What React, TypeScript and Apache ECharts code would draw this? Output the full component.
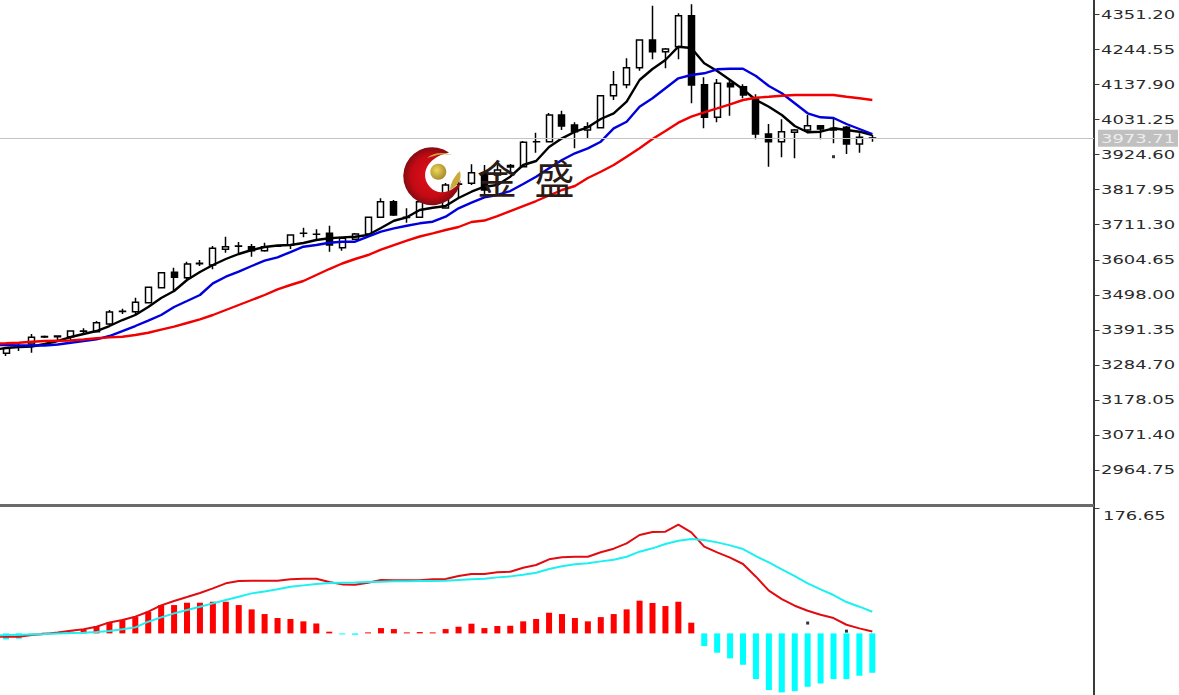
import React, { useEffect, useRef } from "react";
import * as echarts from "echarts";

const priceTicks = [4351.2, 4244.55, 4137.9, 4031.25, 3924.6, 3817.95, 3711.3, 3604.65, 3498.0, 3391.35, 3284.7, 3178.05, 3071.4, 2964.75];
const macdTicks = [176.65];
const lastPrice = 3973.71;

const opens = [3319.4,3339.4,3347.6,3370.5,3372,3369.9,3386.5,3385.1,3408.5,3447.1,3445.9,3473.3,3518.9,3565.7,3549.3,3592.1,3587.9,3635.7,3645,3643.6,3631.4,3645,3648.7,3684.3,3681.3,3684.3,3640.5,3666.1,3682.2,3733,3780.4,3732.5,3733,3783,3761.3,3833.3,3836.4,3867.7,3861.6,3885.9,3886.8,3962.4,3962.9,4044.1,4013.7,3998.5,4005.4,4102.8,4136.2,4187.9,4272.2,4236.6,4251.8,4346.1,4136.2,4037.1,4140.5,4130.1,4092.7,3986.3,3962.9,3991.5,3998.5,4011.5,4003.6,4006.7,3955.9,3974.1];
const closes = [3334.6,3338.5,3368,3368.9,3369.9,3387.2,3387.2,3412.4,3445,3446.3,3474.5,3520.1,3564.5,3550.5,3590.9,3593.1,3638.7,3643.6,3645.7,3631.4,3643.6,3645.7,3679.1,3684.8,3681.8,3648.7,3669.1,3682.2,3733,3780.4,3740,3733,3780.4,3790,3831.2,3834.3,3868.6,3816,3876.8,3890.5,3961,3963,4044.1,4010.6,3993.3,4008.5,4102.8,4136.2,4187.9,4272.2,4236.6,4244.8,4346.1,4135.3,4037.1,4140.5,4130.1,4104.9,3986.3,3962.9,3993.3,3998.5,4011.5,4001.5,3998.5,3955.9,3976.3,3973.71];
const lows = [3311.2,3326.4,3321.2,3365.9,3353.7,3359.8,3378.1,3384.2,3405.4,3438.9,3435.9,3472.4,3516.4,3506.7,3545.3,3584.9,3574.8,3625.3,3621.4,3613.2,3628.4,3642.6,3636.6,3672.1,3661.8,3628.4,3631.4,3663.9,3679.1,3730.8,3736.9,3716.5,3730.8,3775,3761,3791.7,3831.2,3800.8,3846.4,3870.7,3886,3929.4,3962,3998.5,3942.8,3973.2,4004.5,4089.7,4125.3,4178.8,4213.5,4186.1,4213.5,4079.7,4003.6,4021.9,4041.9,4094.9,3970.2,3886.8,3915.4,3912.4,3988.4,3970.2,3958,3925.5,3929.4,3962.9];
const highs = [3335.5,3350.7,3378.1,3373.5,3373.5,3388.7,3395.4,3417.6,3451.1,3455,3488.5,3521,3566.6,3579.7,3597.9,3603.1,3645.7,3674,3657.9,3651.8,3655.7,3648.7,3680.7,3701.3,3696.5,3707.4,3673.1,3685.2,3733.9,3790.8,3785.6,3760.3,3800.8,3805,3837.3,3867.7,3894.2,3892,3892,3895,3965,3990.2,4050.2,4057.1,4021.9,4021.9,4104.9,4177.9,4216.5,4273,4376.5,4247.8,4353.4,4380.8,4158.7,4153.6,4150.5,4137.4,4107,4016.7,4031,4001.5,4044.1,4013.7,4034,4010.6,3988.4,3983.3];

// The three averages and the two MACD lines run in from a bar just off the left edge, so they start with one extra value.
const maBlack = [3330,3335.5,3338.5,3340.1,3347.7,3356.8,3368.9,3378.1,3387.2,3402.4,3420.6,3435.9,3460.2,3487.6,3508.8,3542.3,3566.6,3587.9,3606.2,3621.4,3633.5,3642.6,3647.2,3648.7,3654.8,3663.9,3669.1,3672.1,3674,3679.1,3700.4,3722.6,3733,3755.2,3762.2,3767.3,3791.7,3810.8,3826,3831.2,3856.4,3892,3904.2,3946.8,3973.2,3993.3,4006.7,4031.9,4049.2,4084.5,4150.5,4184,4211.3,4251.8,4247.8,4201.3,4177.9,4150.5,4122.2,4089.7,4069.3,4044.1,4010.6,3991.5,3993.3,4003.6,3998.5,3993.3,3983.3];
const maBlue = [3345,3344.6,3343.1,3343.1,3343.1,3346.1,3351.6,3356.8,3362,3372,3387.2,3402.4,3418.5,3435.9,3460.2,3478.4,3496.7,3532.2,3552.3,3567.5,3584.9,3601,3611.3,3627.4,3643.6,3648.7,3655.7,3658.8,3658.8,3674,3689.2,3699.5,3707.4,3714.7,3719.6,3734.8,3760.3,3777.4,3793.8,3800.8,3812.9,3834.2,3856.4,3882,3907.2,3927.6,3942.8,3962.9,4003.6,4023.7,4069.3,4094.9,4125.3,4155.7,4165.7,4170.9,4183.1,4184.9,4184.9,4162.7,4132.3,4110.1,4079.7,4049.2,4037.1,4035,4016.7,4001.5,3986.3];
const maRed = [3348.5,3349.8,3351.3,3354.7,3356.8,3357.7,3358.3,3361.3,3365,3368,3369.9,3375,3382,3391.2,3400.3,3411.5,3422.8,3435.9,3451.1,3466.3,3481.5,3496.7,3514,3527.1,3539.3,3557.5,3575.7,3592.5,3606.2,3618.3,3634.4,3648.7,3661.8,3674.6,3684.3,3694.3,3703.5,3718.7,3723.2,3736.9,3752.1,3767.3,3782.5,3799.3,3816,3828.2,3852.5,3871.6,3892,3917.3,3942.8,3971.1,3995.4,4020.7,4038.9,4052.3,4064.4,4076.6,4089.7,4096.7,4099.7,4102.8,4104.9,4104.9,4104.9,4104.9,4099.7,4094.9,4089.7];

const macdBars = [-8.5,-7.5,-1,1,1.4,2.4,5.7,10.4,16,18.8,23.6,30.6,40,40,43.3,43.3,44.7,44.7,40,33.9,27.3,21.7,20.3,17,14,2.4,-1.5,-2,1.4,7.5,6.1,1.4,1.9,1.4,6.1,9.4,13.7,7.5,10.4,10.8,17,20.3,29.2,27.3,21.7,17,23,27.3,33.9,46.2,42.9,38.6,44.7,15.1,-17.9,-27.3,-35.3,-44.3,-64.5,-80,-83.4,-81.5,-75.4,-70.7,-64.5,-64.5,-59.8,-55.6];
const macdRed = [-4.7,-4.7,-4.7,-2.4,-0.9,1.4,3.8,5.7,9.4,15.5,18.8,23.6,30.6,39.6,45.7,51.3,57,63.6,70.7,74,74.4,74.4,74.4,76.3,77.2,77.2,72.5,69.2,68.7,71.6,75.4,74.9,74.9,74.9,76.3,76.8,81,83.8,83.8,86.2,87.1,92.8,96.6,104.6,107.4,108.3,108.3,114.5,119.6,127.2,138.9,143.2,143.7,153.5,142.7,122.5,114.5,106.9,98,80.1,60.3,48.5,39.1,32,26.4,21.7,12.2,7.1,2.8];
const macdCyan = [-2.6,-2.4,-1.9,-1.4,-0.9,0,0.5,0.9,1.9,3.3,5.7,8.5,16.5,22.6,28.3,33,37.7,42.4,47.1,51.8,56.5,59.3,62.2,65.9,67.8,69.7,71.1,71.6,72,72.5,73,73.5,73.5,73.9,73.9,74.4,75.4,76.3,77.2,79.1,80.5,82.9,85.7,90.9,94.7,97.6,99,101.7,104.1,108.3,115.4,120.1,126.2,130.9,133.3,131.9,128.5,124.3,119.1,109.2,100.2,90.3,80.9,70.7,62.2,54.2,44.3,37.7,30.6];

// Stray single-pixel specks in the picture: [bar number, value].
const priceSpecks = [[65, 3917.3]];
const macdSpecks = [[63, 14.6], [66, 3.2]];

const crescentPath = "M449 152.5A29 29 0 1 0 461 180C456 190 440 198 430 187C420 176 425 158 449 152.5Z";
const swooshTopPath = "M427 158Q437 150 452 155Q440 153 434 156Q430 157 427 158Z";
const swooshLowPath = "M450 190Q451 179 460 171Q463 183 450 190Z";
echarts.graphic.registerShape("logoCrescent", echarts.graphic.extendPath(crescentPath, {}));
echarts.graphic.registerShape("logoSwooshTop", echarts.graphic.extendPath(swooshTopPath, {}));
echarts.graphic.registerShape("logoSwooshLow", echarts.graphic.extendPath(swooshLowPath, {}));

const FONT = "DejaVu Sans";
const LABEL_SIZE = 13;
const LABEL_STRETCH = 1.38;
const BAND_COUNT = 85;
const AXIS_X = 1093.5;
const TICK_LENGTH = 6;
const categories = Array.from({ length: BAND_COUNT }, (_, i) => String(i));

function priceAxis(gridIndex: number, min: number, max: number) {
  return {
    type: "value",
    gridIndex,
    position: "right",
    offset: 8.345,
    min,
    max,
    scale: true,
    splitLine: { show: false },
    axisLine: { show: true, onZero: false, lineStyle: { color: "#3a3a3a", width: 2 } },
    axisTick: { show: false },
    axisLabel: { show: false },
  };
}

function lineSeries(name: string, data: number[], color: string, axis: number, width: number, extra: object = {}) {
  return {
    name,
    type: "line",
    data,
    xAxisIndex: axis,
    yAxisIndex: axis,
    symbol: "none",
    smooth: false,
    silent: true,
    z: 3,
    lineStyle: { color, width },
    ...extra,
  };
}

function speckSeries(data: number[][], axis: number) {
  return {
    type: "scatter",
    data,
    xAxisIndex: axis,
    yAxisIndex: axis,
    symbol: "rect",
    symbolSize: [3, 3],
    silent: true,
    z: 4,
    itemStyle: { color: "#000000" },
  };
}

export default function App() {
  const ref = useRef<HTMLDivElement>(null);

  useEffect(() => {
    const chart = echarts.init(ref.current!, null, { renderer: "svg" });
    chart.setOption({
      animation: false,
      backgroundColor: "#ffffff",
      grid: [
        { left: -13.395, top: 0, width: 1099.05, height: 505, outerBoundsMode: "none" },
        { left: -13.395, top: 505, width: 1099.05, height: 190, outerBoundsMode: "none" },
      ],
      xAxis: [0, 1].map((gridIndex) => ({
        type: "category",
        gridIndex,
        data: categories,
        show: false,
      })),
      yAxis: [priceAxis(0, 2858.1, 4393.8), priceAxis(1, -87, 181.3)],
      series: [
        {
          name: "K",
          type: "candlestick",
          xAxisIndex: 0,
          yAxisIndex: 0,
          barWidth: 6.5,
          silent: true,
          data: [["-", "-", "-", "-"], ...opens.map((o, i) => [o, closes[i], lows[i], highs[i]])],
          itemStyle: {
            color: "#ffffff",
            color0: "#000000",
            borderColor: "#000000",
            borderColor0: "#000000",
            borderColorDoji: "#000000",
            borderWidth: 1.5,
          },
        },
        lineSeries("MA black", maBlack, "#000000", 0, 2.4, {
          markLine: {
            silent: true,
            symbol: "none",
            lineStyle: { color: "#c4c4c4", width: 1, type: "solid" },
            label: { show: false },
            data: [[{ x: 0, yAxis: lastPrice }, { x: 1094, yAxis: lastPrice }]],
          },
        }),
        lineSeries("MA blue", maBlue, "#0000dc", 0, 2.4),
        lineSeries("MA red", maRed, "#f00000", 0, 2.4),
        speckSeries(priceSpecks, 0),
        {
          name: "MACD",
          type: "bar",
          xAxisIndex: 1,
          yAxisIndex: 1,
          barWidth: 6,
          silent: true,
          data: ["-", ...macdBars].map((v) => ({
            value: v,
            itemStyle: { color: typeof v === "number" && v < 0 ? "#00ffff" : "#ff0000" },
          })),
        },
        lineSeries("DIF", macdRed, "#e00c10", 1, 2),
        lineSeries("DEA", macdCyan, "#1cf0f0", 1, 2),
        speckSeries(macdSpecks, 1),
      ],
    });

    const priceY = (v: number) => chart.convertToPixel({ yAxisIndex: 0 }, v) as number;
    const macdY = (v: number) => chart.convertToPixel({ yAxisIndex: 1 }, v) as number;
    const stretchedLabel = (value: number, x: number, y: number, fill: string) => ({
      type: "text",
      z: 22,
      silent: true,
      x,
      y,
      scaleX: LABEL_STRETCH,
      style: {
        text: value.toFixed(2),
        fontFamily: FONT,
        fontSize: LABEL_SIZE,
        fill,
        align: "left",
        verticalAlign: "middle",
      },
    });
    const tickMark = (y: number) => ({
      type: "line",
      z: 22,
      silent: true,
      shape: { x1: AXIS_X, y1: Math.round(y) + 0.5, x2: AXIS_X + TICK_LENGTH, y2: Math.round(y) + 0.5 },
      style: { stroke: "#3a3a3a", lineWidth: 1 },
    });
    const gold = {
      type: "radial",
      x: 0.4,
      y: 0.4,
      r: 0.65,
      colorStops: [
        { offset: 0, color: "#ecd75a" },
        { offset: 1, color: "#a5882a" },
      ],
    };

    chart.setOption({
      graphic: [
        { type: "rect", z: 20, silent: true, shape: { x: 0, y: 504, width: 1094, height: 3 }, style: { fill: "#6a6a6a" } },
        { type: "rect", z: 21, silent: true, shape: { x: 1098, y: priceY(lastPrice) - 8.5, width: 80, height: 17 }, style: { fill: "#c0c0c0" } },
        stretchedLabel(lastPrice, 1101, priceY(lastPrice), "#eeeeee"),
        ...priceTicks.map((v) => tickMark(priceY(v))),
        ...macdTicks.map((v) => tickMark(macdY(v))),
        ...priceTicks.map((v) => stretchedLabel(v, 1101, priceY(v), "#2a2a2a")),
        ...macdTicks.map((v) => stretchedLabel(v, 1103, macdY(v) + 7, "#2a2a2a")),
        {
          type: "logoCrescent",
          x: 0,
          y: 0,
          z: 20,
          silent: true,
          style: {
            fill: {
              type: "radial",
              x: 0.5,
              y: 0.5,
              r: 0.55,
              colorStops: [
                { offset: 0, color: "#e2101c" },
                { offset: 0.65, color: "#c40a14" },
                { offset: 1, color: "#6e0a10" },
              ],
            },
          },
        },
        { type: "logoSwooshTop", x: 0, y: 0, z: 20, silent: true, style: { fill: "#c8ab3c" } },
        { type: "logoSwooshLow", x: 0, y: 0, z: 20, silent: true, style: { fill: "#c8ab3c" } },
        { type: "circle", z: 20, silent: true, shape: { cx: 438.3, cy: 171.7, r: 8 }, style: { fill: gold } },
        {
          type: "text",
          z: 21,
          silent: true,
          x: 497,
          y: 177,
          style: { text: "金", fontFamily: "Noto Sans CJK SC", fontSize: 40, fill: "#2b1b17", align: "center", verticalAlign: "middle" },
        },
        {
          type: "text",
          z: 21,
          silent: true,
          x: 554.5,
          y: 177,
          style: { text: "盛", fontFamily: "Noto Sans CJK SC", fontSize: 40, fill: "#2b1b17", align: "center", verticalAlign: "middle" },
        },
      ],
    });
    return () => chart.dispose();
  }, []);

  return <div ref={ref} style={{ position: "fixed", left: 0, top: 0, width: 1179, height: 695 }} />;
}
